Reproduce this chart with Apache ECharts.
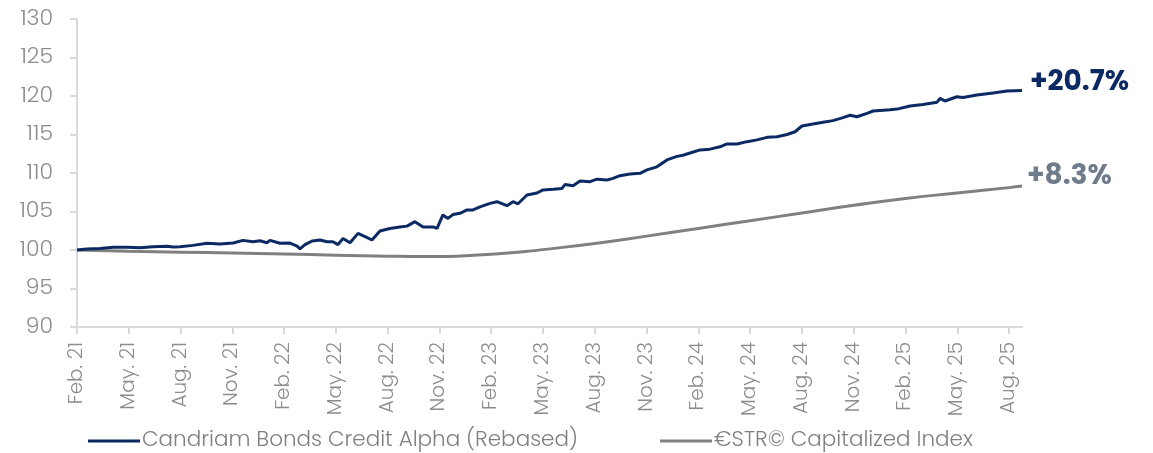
<!DOCTYPE html>
<html>
<head>
<meta charset="utf-8">
<title>Candriam Bonds Credit Alpha</title>
<script src="https://cdn.jsdelivr.net/npm/echarts@6/dist/echarts.min.js"></script>
<style>
    html, body { margin: 0; padding: 0; background: #fff; }
    #Echarts1 { width: 1153px; height: 453px; }
</style>
</head>
<body>
<div id="Echarts1"></div>
<script>
/************** 数据 ***************/
// x = months since 1 Feb 2021
var fundMonths = [0, 0.58, 1.33, 2.09, 2.9, 3.65, 4.4, 5.21, 5.56, 5.97, 6.72, 7.53, 8.28, 9.04, 9.62, 10.2, 10.6, 11.0, 11.18, 11.76,
    12.34, 12.75, 12.92, 13.21, 13.62, 14.08, 14.48, 14.83, 15.12, 15.41, 15.82, 16.28, 16.69, 17.09, 17.55, 18.13, 18.71, 19.12, 19.58, 20.05,
    20.63, 20.86, 21.2, 21.49, 21.78, 22.19, 22.6, 22.94, 23.35, 23.93, 24.33, 24.91, 25.26, 25.55, 26.07, 26.65, 27.0, 27.58, 28.1, 28.27,
    28.74, 29.14, 29.72, 30.13, 30.71, 31.05, 31.46, 32.04, 32.62, 33.02, 33.6, 34.18, 34.76, 35.11, 35.52, 36.1, 36.67, 37.25, 37.66, 38.24,
    38.82, 39.4, 39.98, 40.56, 41.14, 41.6, 42.0, 42.64, 43.22, 43.8, 44.38, 44.79, 45.19, 45.77, 46.12, 47.1, 47.51, 48.26, 49.01, 49.83,
    50.0, 50.29, 50.98, 51.33, 52.14, 53.07, 53.88, 54.75];
var fundValues = [100.0, 100.13, 100.2, 100.35, 100.35, 100.3, 100.43, 100.5, 100.4, 100.43, 100.6, 100.87, 100.78, 100.9, 101.25, 101.08, 101.2, 100.95, 101.25, 100.87,
    100.9, 100.5, 100.15, 100.7, 101.17, 101.3, 101.08, 101.08, 100.7, 101.5, 100.95, 102.16, 101.73, 101.3, 102.47, 102.8, 103.0, 103.1, 103.68, 103.0,
    103.0, 102.8, 104.55, 104.1, 104.6, 104.76, 105.2, 105.2, 105.6, 106.05, 106.27, 105.75, 106.27, 106.0, 107.14, 107.4, 107.8, 107.9, 108.0, 108.5,
    108.35, 108.96, 108.87, 109.2, 109.1, 109.3, 109.65, 109.87, 109.96, 110.4, 110.8, 111.7, 112.16, 112.3, 112.6, 113.0, 113.1, 113.4, 113.77, 113.77,
    114.07, 114.3, 114.63, 114.7, 115.0, 115.36, 116.1, 116.36, 116.6, 116.8, 117.2, 117.5, 117.3, 117.75, 118.05, 118.2, 118.3, 118.7, 118.9, 119.2,
    119.7, 119.35, 119.9, 119.8, 120.13, 120.4, 120.65, 120.7];

var estrMonths = [0, 3, 6, 9, 12, 15, 18, 20, 21, 22, 24, 26, 27, 30, 33, 36, 39, 42, 45, 48, 51, 54, 54.75];
var estrValues = [100.0, 99.85, 99.72, 99.6, 99.47, 99.33, 99.2, 99.15, 99.15, 99.2, 99.45, 99.8, 100.05, 100.85, 101.8, 102.8, 103.8, 104.8, 105.8, 106.7, 107.4, 108.1, 108.3];

var tickLabels = ['Feb. 21', 'May. 21', 'Aug. 21', 'Nov. 21', 'Feb. 22', 'May. 22', 'Aug. 22', 'Nov. 22', 'Feb. 23', 'May. 23',
    'Aug. 23', 'Nov. 23', 'Feb. 24', 'May. 24', 'Aug. 24', 'Nov. 24', 'Feb. 25', 'May. 25', 'Aug. 25'];

var seriesNames = ['Candriam Bonds Credit Alpha (Rebased)', '€STR© Capitalized Index'];
var endLabels = ['+20.7%', '+8.3%'];

/*************** 初始化 *********************/
initEcharts1();

function zipPoints(xs, ys) {
    var out = [];
    for (var i = 0; i < xs.length; i++) {
        out.push([xs[i], ys[i]]);
    }
    return out;
}

function initEcharts1() {
    var myChart = echarts.init(document.getElementById('Echarts1'));
    var font = 'Poppins, "Open Sans", sans-serif';
    var tickValues = tickLabels.map(function (t, i) { return i * 3; });

    var option = {
        animation: false,
        textStyle: { fontFamily: font },
        grid: { left: 77, right: 131, top: 19, bottom: 126 },
        legend: {
            left: 83,
            bottom: -4,
            itemWidth: 52,
            itemHeight: 3,
            itemGap: 82,
            icon: 'rect',
            textStyle: { fontSize: 21.5, fontWeight: 300, color: '#808080', fontFamily: font, padding: [0, 0, 0, -3] },
            data: seriesNames
        },
        xAxis: {
            type: 'value',
            min: 0,
            max: 54.75,
            interval: 3,
            splitLine: { show: false },
            axisLine: { lineStyle: { color: '#d9d9d9', width: 2 } },
            axisTick: { show: true, length: 7, customValues: tickValues, lineStyle: { color: '#d9d9d9', width: 2 } },
            axisLabel: {
                rotate: 90,
                margin: 15,
                fontSize: 20,
                fontWeight: 300,
                color: '#8c8c8c',
                customValues: tickValues,
                formatter: function (v) { return tickLabels[Math.round(v / 3)] || ''; }
            }
        },
        yAxis: {
            type: 'value',
            min: 90,
            max: 130,
            interval: 5,
            splitLine: { show: false },
            axisLine: { show: true, lineStyle: { color: '#d9d9d9', width: 2 } },
            axisTick: { show: true, length: 7, lineStyle: { color: '#d9d9d9', width: 2 } },
            axisLabel: { fontSize: 22, fontWeight: 300, color: '#8c8c8c', margin: 24 }
        },
        series: [
            {
                name: seriesNames[0],
                type: 'line',
                showSymbol: false,
                color: '#0b2a63',
                lineStyle: { width: 3, color: '#0b2a63' },
                data: zipPoints(fundMonths, fundValues),
                endLabel: {
                    show: true,
                    formatter: endLabels[0],
                    fontSize: 28,
                    fontWeight: 'bold',
                    color: '#0b2a63',
                    distance: 8,
                    offset: [0, -8]
                },
                z: 3
            },
            {
                name: seriesNames[1],
                type: 'line',
                showSymbol: false,
                smooth: true,
                color: '#808080',
                lineStyle: { width: 3, color: '#808080' },
                data: zipPoints(estrMonths, estrValues),
                endLabel: {
                    show: true,
                    formatter: endLabels[1],
                    fontSize: 28,
                    fontWeight: 'bold',
                    color: '#6f7c8c',
                    distance: 5,
                    offset: [0, -9]
                },
                z: 2
            }
        ]
    };

    myChart.setOption(option);
}
</script>
</body>
</html>
